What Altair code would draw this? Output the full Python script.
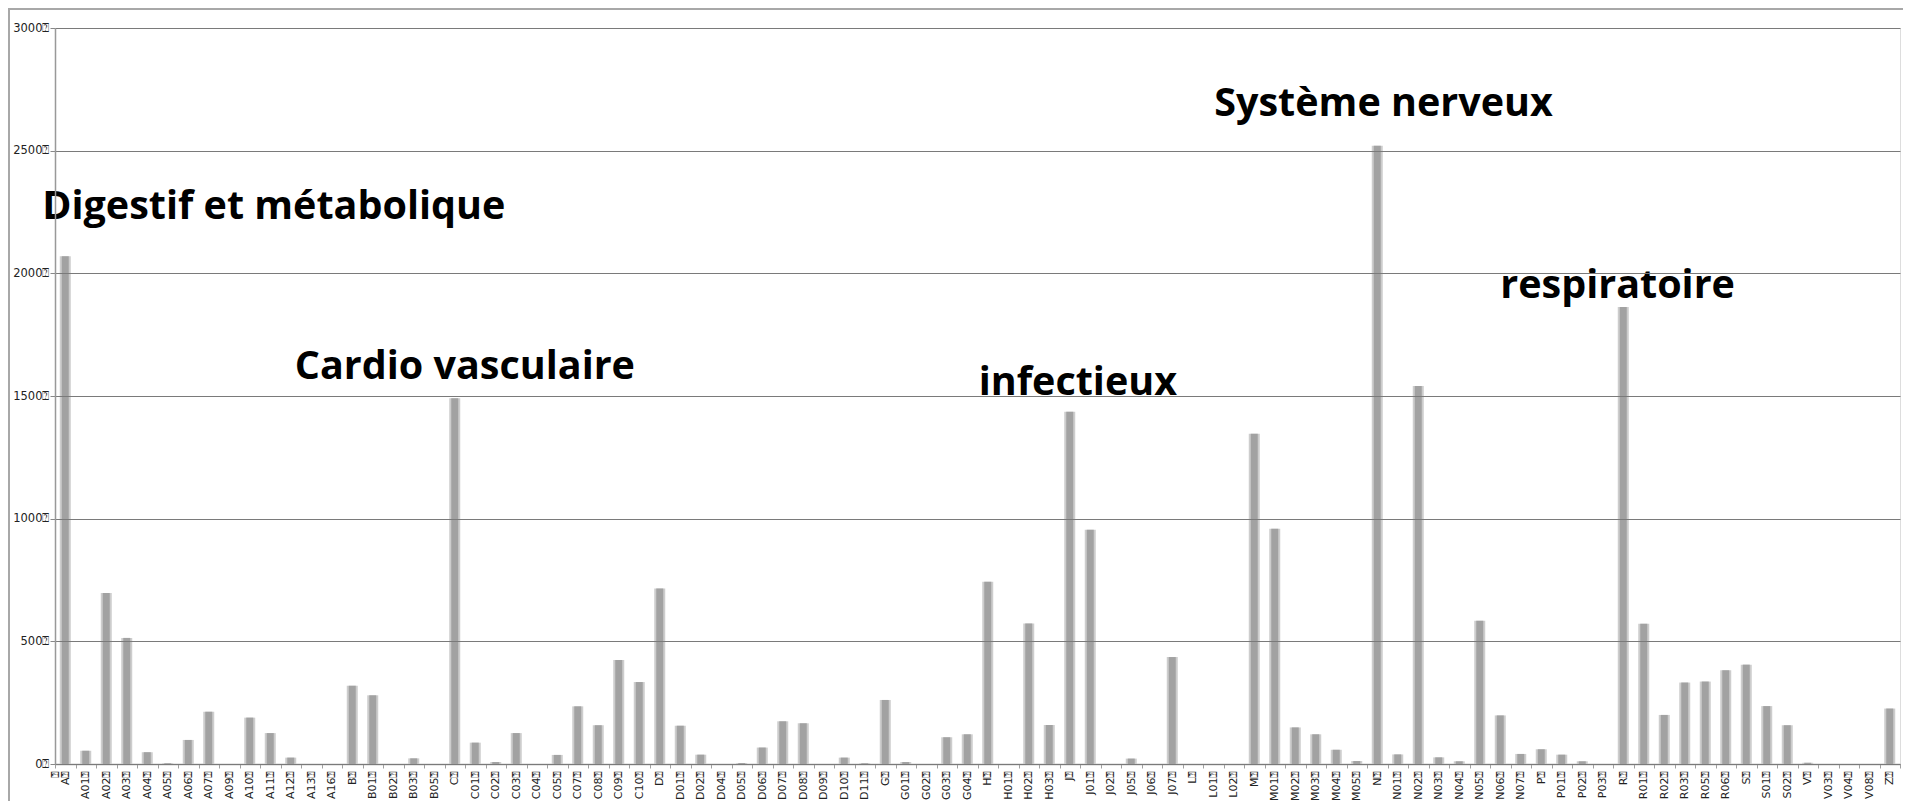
import altair as alt
import pandas as pd

categories = [
    "A", "A01", "A02", "A03", "A04", "A05", "A06", "A07", "A09", "A10", "A11", "A12", "A13", "A16",
    "B", "B01", "B02", "B03", "B05",
    "C", "C01", "C02", "C03", "C04", "C05", "C07", "C08", "C09", "C10",
    "D", "D01", "D02", "D04", "D05", "D06", "D07", "D08", "D09", "D10", "D11",
    "G", "G01", "G02", "G03", "G04",
    "H", "H01", "H02", "H03",
    "J", "J01", "J02", "J05", "J06", "J07",
    "L", "L01", "L02",
    "M", "M01", "M02", "M03", "M04", "M05",
    "N", "N01", "N02", "N03", "N04", "N05", "N06", "N07",
    "P", "P01", "P02", "P03",
    "R", "R01", "R02", "R03", "R05", "R06",
    "S", "S01", "S02",
    "V", "V03", "V04", "V08",
    "Z",
]

values = [
    2070, 54, 697, 514, 48, 3, 98, 213, 0, 189, 126, 26, 0, 0,
    319, 280, 0, 23, 0,
    1491, 87, 8, 126, 0, 37, 235, 158, 424, 334,
    715, 156, 38, 0, 4, 67, 174, 166, 0, 26, 3,
    261, 8, 0, 109, 121,
    743, 0, 573, 159,
    1436, 955, 0, 22, 0, 436,
    0, 0, 0,
    1346, 959, 149, 121, 58, 12,
    2520, 39, 1541, 27, 11, 584, 198, 41,
    60, 38, 11, 0,
    1863, 572, 200, 332, 336, 382,
    405, 236, 158,
    5, 0, 0, 0,
    226,
]

y_ticks = [0, 500, 1000, 1500, 2000, 2500, 3000]

ann_labels = ["Digestif et métabolique", "Cardio vasculaire", "infectieux", "Système nerveux", "respiratoire"]
ann_codes = ["A", "A12", "H", "L01", "N06"]
ann_values = [2270, 1620, 1555, 2690, 1948]
ann_dx = [-23, 4, -9, 1, 0]

df = pd.DataFrame({"code": categories, "n": values})

x_enc = alt.X(
    "code:N",
    sort=categories,
    scale=alt.Scale(paddingInner=0, paddingOuter=0),
    axis=alt.Axis(
        title=None,
        labelAngle=-90,
        labelExpr="datum.label + '⍰'",
        tickBand="extent",
        labelFont="DejaVu Sans",
        labelFontSize=11,
        labelColor="#222222",
        labelPadding=2,
        tickSize=4,
        tickColor="#a0a0a0",
        domainColor="#a0a0a0",
        domainWidth=1.5,
        labelOverlap=False,
    ),
)
y_enc = alt.Y(
    "n:Q",
    scale=alt.Scale(domain=[0, 3000], nice=False),
    axis=alt.Axis(
        title=None,
        values=y_ticks,
        labelExpr="datum.label + '⍰'",
        format="d",
        labelFont="DejaVu Sans",
        labelFontSize=11.5,
        labelColor="#222222",
        labelPadding=1,
        tickSize=5,
        tickColor="#888888",
        domainColor="#999999",
        domainWidth=1.5,
        grid=True,
        gridColor="#7a7a7a",
        gridWidth=1.2,
        zindex=1,
    ),
)

base = alt.Chart(df)
halo = base.mark_bar(size=11, color="#cdcdcd").encode(x=x_enc, y=y_enc)
core = base.mark_bar(size=7, color="#a2a2a2").encode(x="code:N", y="n:Q")

# thin frame around the chart area (top and left edges)
frame_top = alt.Chart(df).mark_rule(color="#a8a8a8", strokeWidth=1.5).encode(
    x=alt.value(-47), x2=alt.value(1848), y=alt.value(-19.5)
)
frame_left = alt.Chart(df).mark_rule(color="#a8a8a8", strokeWidth=1.5).encode(
    x=alt.value(-46), y=alt.value(-20), y2=alt.value(780)
)

layers = [halo, core, frame_top, frame_left]
for lab, code, val, dx in zip(ann_labels, ann_codes, ann_values, ann_dx):
    adf = pd.DataFrame({"code": [code], "n": [val], "label": [lab]})
    layers.append(
        alt.Chart(adf)
        .mark_text(
            font="Open Sans",
            fontWeight="bold",
            fontSize=39.5,
            align="left",
            baseline="middle",
            color="#000000",
            dx=dx,
        )
        .encode(x="code:N", y="n:Q", text="label:N")
    )

chart = (
    alt.layer(*layers)
    .properties(
        width=1845,
        height=736,
        autosize=alt.AutoSizeParams(type="none"),
        padding={"left": 47, "top": 20, "right": 3, "bottom": 37},
    )
    .configure_view(stroke=None)
    .configure(background="white")
)

chart.save("out.html", embed_options={"renderer": "svg", "actions": False})
